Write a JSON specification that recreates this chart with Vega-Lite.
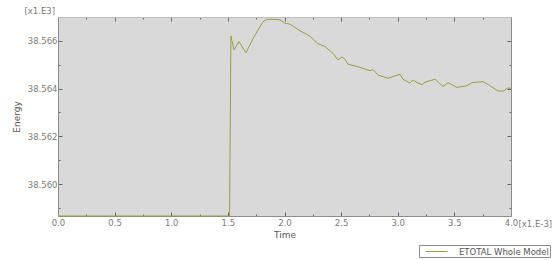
{
  "$schema": "https://vega.github.io/schema/vega-lite/v6.json",
  "width": 453,
  "height": 199,
  "autosize": {"type": "none"},
  "padding": {"left": 58, "top": 17, "right": 47, "bottom": 44},
  "background": "white",
  "config": {
    "font": "DejaVu Sans",
    "view": {"fill": "#d9d9d9", "stroke": null},
    "axis": {
      "domainColor": "#8c8c8c",
      "tickColor": "#666666",
      "tickSize": -4,
      "labelColor": "#7a7a7a",
      "labelFontSize": 8.5,
      "labelFont": "DejaVu Sans",
      "titleFont": "DejaVu Sans",
      "titleFontSize": 9,
      "titleFontWeight": "normal",
      "titleColor": "#555555",
      "grid": false
    },
    "legend": {
      "labelFont": "DejaVu Sans",
      "labelFontSize": 8.5,
      "labelColor": "#555555"
    }
  },
  "data": {
    "values": [
      {"t": 0.0, "e": 38.55866, "series": "ETOTAL Whole Model"},
      {"t": 1.515, "e": 38.55866, "series": "ETOTAL Whole Model"},
      {"t": 1.527, "e": 38.5662, "series": "ETOTAL Whole Model"},
      {"t": 1.554, "e": 38.56562, "series": "ETOTAL Whole Model"},
      {"t": 1.598, "e": 38.56597, "series": "ETOTAL Whole Model"},
      {"t": 1.660, "e": 38.5655, "series": "ETOTAL Whole Model"},
      {"t": 1.722, "e": 38.5661, "series": "ETOTAL Whole Model"},
      {"t": 1.810, "e": 38.5668, "series": "ETOTAL Whole Model"},
      {"t": 1.846, "e": 38.5669, "series": "ETOTAL Whole Model"},
      {"t": 1.916, "e": 38.5669, "series": "ETOTAL Whole Model"},
      {"t": 1.960, "e": 38.56688, "series": "ETOTAL Whole Model"},
      {"t": 2.004, "e": 38.56674, "series": "ETOTAL Whole Model"},
      {"t": 2.049, "e": 38.5667, "series": "ETOTAL Whole Model"},
      {"t": 2.137, "e": 38.56642, "series": "ETOTAL Whole Model"},
      {"t": 2.225, "e": 38.5662, "series": "ETOTAL Whole Model"},
      {"t": 2.287, "e": 38.5659, "series": "ETOTAL Whole Model"},
      {"t": 2.358, "e": 38.56576, "series": "ETOTAL Whole Model"},
      {"t": 2.428, "e": 38.56548, "series": "ETOTAL Whole Model"},
      {"t": 2.472, "e": 38.5652, "series": "ETOTAL Whole Model"},
      {"t": 2.508, "e": 38.56532, "series": "ETOTAL Whole Model"},
      {"t": 2.534, "e": 38.56523, "series": "ETOTAL Whole Model"},
      {"t": 2.561, "e": 38.56502, "series": "ETOTAL Whole Model"},
      {"t": 2.667, "e": 38.56489, "series": "ETOTAL Whole Model"},
      {"t": 2.755, "e": 38.56475, "series": "ETOTAL Whole Model"},
      {"t": 2.781, "e": 38.5648, "series": "ETOTAL Whole Model"},
      {"t": 2.826, "e": 38.56457, "series": "ETOTAL Whole Model"},
      {"t": 2.914, "e": 38.56443, "series": "ETOTAL Whole Model"},
      {"t": 2.993, "e": 38.56456, "series": "ETOTAL Whole Model"},
      {"t": 3.020, "e": 38.5646, "series": "ETOTAL Whole Model"},
      {"t": 3.046, "e": 38.56439, "series": "ETOTAL Whole Model"},
      {"t": 3.108, "e": 38.56423, "series": "ETOTAL Whole Model"},
      {"t": 3.135, "e": 38.56436, "series": "ETOTAL Whole Model"},
      {"t": 3.170, "e": 38.56425, "series": "ETOTAL Whole Model"},
      {"t": 3.214, "e": 38.56416, "series": "ETOTAL Whole Model"},
      {"t": 3.241, "e": 38.56427, "series": "ETOTAL Whole Model"},
      {"t": 3.329, "e": 38.56439, "series": "ETOTAL Whole Model"},
      {"t": 3.400, "e": 38.56409, "series": "ETOTAL Whole Model"},
      {"t": 3.444, "e": 38.56425, "series": "ETOTAL Whole Model"},
      {"t": 3.523, "e": 38.56405, "series": "ETOTAL Whole Model"},
      {"t": 3.611, "e": 38.56412, "series": "ETOTAL Whole Model"},
      {"t": 3.656, "e": 38.56425, "series": "ETOTAL Whole Model"},
      {"t": 3.753, "e": 38.56429, "series": "ETOTAL Whole Model"},
      {"t": 3.815, "e": 38.56412, "series": "ETOTAL Whole Model"},
      {"t": 3.885, "e": 38.5639, "series": "ETOTAL Whole Model"},
      {"t": 3.938, "e": 38.5639, "series": "ETOTAL Whole Model"},
      {"t": 3.965, "e": 38.56402, "series": "ETOTAL Whole Model"},
      {"t": 4.0, "e": 38.56402, "series": "ETOTAL Whole Model"}
    ]
  },
  "layer": [
    {
      "mark": {"type": "line", "strokeWidth": 1},
      "encoding": {
        "x": {
          "field": "t", "type": "quantitative",
          "scale": {"domain": [0, 4], "nice": false, "zero": false},
          "axis": {
            "orient": "bottom",
            "title": "Time",
            "titlePadding": 4,
            "values": [0, 0.25, 0.5, 0.75, 1, 1.25, 1.5, 1.75, 2, 2.25, 2.5, 2.75, 3, 3.25, 3.5, 3.75, 4],
            "labelExpr": "datum.value % 0.5 == 0 ? format(datum.value, '.1f') : ''",
            "tickDash": {"condition": {"test": "datum.value % 0.5 == 0", "value": []}, "value": [2, 6]},
            "labelPadding": 6,
            "labelFlush": false
          }
        },
        "y": {
          "field": "e", "type": "quantitative",
          "scale": {"domain": [38.55866, 38.567], "nice": false, "zero": false},
          "axis": {
            "orient": "left",
            "title": "Energy",
            "titlePadding": 6,
            "values": [38.559, 38.56, 38.561, 38.562, 38.563, 38.564, 38.565, 38.566],
            "labelExpr": "round(datum.value * 1000) % 2 == 0 ? format(datum.value, '.3f') : ''",
            "tickDash": {"condition": {"test": "round(datum.value * 1000) % 2 == 0", "value": []}, "value": [2, 6]},
            "labelPadding": 5
          }
        },
        "color": {
          "field": "series", "type": "nominal",
          "scale": {"range": ["#9c9c48"]},
          "legend": {
            "title": null,
            "orient": "none",
            "legendX": 361,
            "legendY": 228,
            "strokeColor": "#8c8c8c",
            "fillColor": "white",
            "padding": 1,
            "symbolType": "M-2.2,0H2.2",
            "symbolSize": 100,
            "symbolStrokeWidth": 1,
            "symbolFillColor": "transparent",
            "symbolOffset": 11,
            "labelOffset": 17
          }
        }
      }
    },
    {
      "mark": {"type": "line", "strokeOpacity": 0},
      "encoding": {
        "x": {
          "field": "t", "type": "quantitative",
          "axis": {
            "orient": "top",
            "title": "[x1.E-3]",
            "titleAngle": 0,
            "titleAlign": "left",
            "titleBaseline": "middle",
            "titleColor": "#7a7a7a",
            "titleFontSize": 8.5,
            "titleX": 460,
            "titleY": 206,
            "labels": false,
            "values": [0, 0.25, 0.5, 0.75, 1, 1.25, 1.5, 1.75, 2, 2.25, 2.5, 2.75, 3, 3.25, 3.5, 3.75, 4],
            "tickDash": {"condition": {"test": "datum.value % 0.5 == 0", "value": []}, "value": [2, 6]},
            "domainColor": "#bdbdbd"
          }
        },
        "y": {
          "field": "e", "type": "quantitative",
          "axis": {
            "orient": "right",
            "title": "[x1.E3]",
            "titleAngle": 0,
            "titleAlign": "left",
            "titleBaseline": "middle",
            "titleColor": "#7a7a7a",
            "titleFontSize": 8.5,
            "titleX": -487,
            "titleY": -7,
            "labels": false,
            "values": [38.559, 38.56, 38.561, 38.562, 38.563, 38.564, 38.565, 38.566],
            "tickDash": {"condition": {"test": "round(datum.value * 1000) % 2 == 0", "value": []}, "value": [2, 6]}
          }
        }
      }
    }
  ],
  "resolve": {"axis": {"x": "independent", "y": "independent"}}
}
